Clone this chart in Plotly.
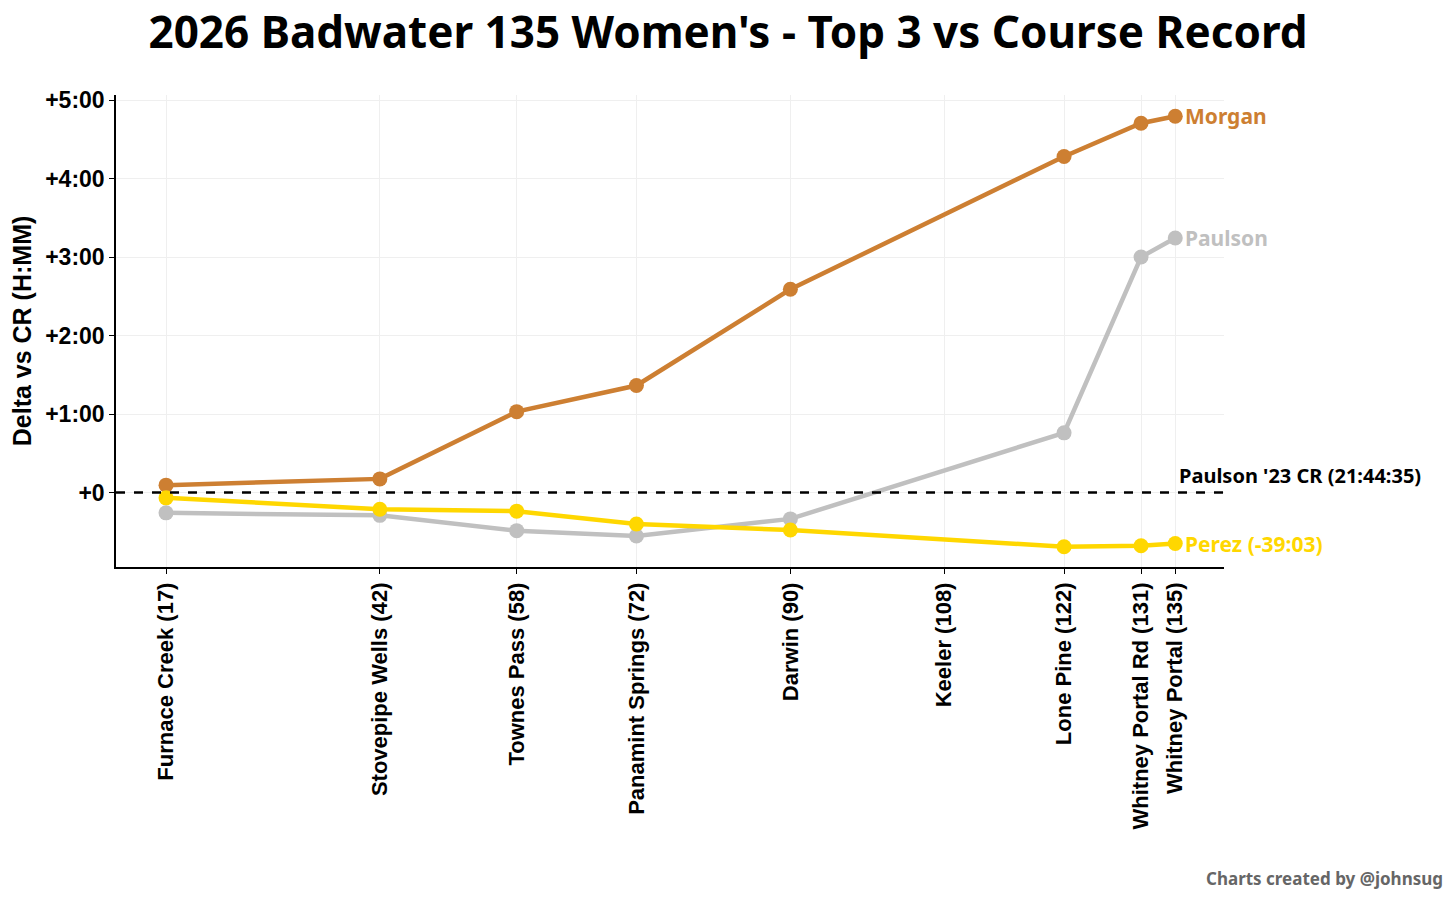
import plotly.graph_objects as go

# checkpoints (mile marker) and labels
miles = [17, 42, 58, 72, 90, 108, 122, 131, 135]
checkpoints = ["Furnace Creek (17)", "Stovepipe Wells (42)", "Townes Pass (58)",
               "Panamint Springs (72)", "Darwin (90)", "Keeler (108)",
               "Lone Pine (122)", "Whitney Portal Rd (131)", "Whitney Portal (135)"]

# delta vs course record, minutes (no split at Keeler)
morgan = [5.6, 10.4, 61.8, 81.8, 155.4, None, 257.0, 282.4, 287.7]
paulson = [-15.6, -17.5, -29.2, -33.3, -20.2, None, 45.6, 180.1, 194.6]
perez = [-4.1, -12.8, -14.3, -24.1, -28.7, None, -41.5, -40.8, -39.05]

ytick_vals = [0, 60, 120, 180, 240, 300]
ytick_text = ["+0", "+1:00", "+2:00", "+3:00", "+4:00", "+5:00"]

runners = [
    ("Morgan", morgan, "#CD7F32", "Morgan"),
    ("Paulson", paulson, "#C0C0C0", "Paulson"),
    ("Perez", perez, "#FFD700", "Perez (-39:03)"),
]

plex = "Noto Sans, sans-serif"
arial = "Liberation Sans, Arial, sans-serif"

fig = go.Figure()

# course record line
fig.add_hline(y=0, line=dict(color="black", width=2.5, dash="dash"))

for name, vals, color, label in runners:
    fig.add_trace(go.Scatter(
        x=miles, y=vals, mode="lines+markers", name=name,
        connectgaps=True,
        line=dict(color=color, width=4.5),
        marker=dict(color=color, size=15),
    ))
    fig.add_annotation(
        x=miles[-1], y=vals[-1], text=f"<b>{label}</b>",
        xanchor="left", yanchor="middle", xshift=8, showarrow=False,
        font=dict(family=plex, size=21, color=color),
    )

fig.add_annotation(
    x=miles[-1], y=0, text="<b>Paulson '23 CR (21:44:35)</b>",
    xanchor="left", yanchor="bottom", xshift=2, yshift=1, showarrow=False,
    font=dict(family=plex, size=20, color="black"),
)

fig.add_annotation(
    xref="paper", yref="paper", x=1.1995, y=-0.659,
    text="<b>Charts created by @johnsug</b>", showarrow=False,
    xanchor="right", yanchor="middle",
    font=dict(family=plex, size=17, color="#666666"),
)

fig.update_layout(
    width=1440, height=884,
    title=dict(text="<b>2026 Badwater 135 Women's - Top 3 vs Course Record</b>",
               x=0.5, xanchor="center", y=0.972, yanchor="middle",
               font=dict(family=plex, size=44, color="black")),
    showlegend=False,
    plot_bgcolor="white", paper_bgcolor="white",
    margin=dict(l=108, r=224, t=87, b=325),
    xaxis=dict(
        range=[11.15, 140.7], tickvals=miles, ticktext=checkpoints,
        tickangle=-90, showgrid=True, gridcolor="#EFEFEF", zeroline=False,
        showline=True, linecolor="black", linewidth=1.5,
        ticks="outside", ticklen=5, tickcolor="black",
        tickfont=dict(family=arial, size=22, color="black", weight="bold"),
    ),
    yaxis=dict(
        range=[-57, 304], tickvals=ytick_vals, ticktext=ytick_text,
        showgrid=True, gridcolor="#EFEFEF", zeroline=False,
        showline=True, linecolor="black", linewidth=1.5,
        ticks="outside", ticklen=5, tickcolor="black",
        tickfont=dict(family=arial, size=23, color="black", weight="bold"),
        title=dict(text="<b>Delta vs CR (H:MM)</b>", standoff=6,
                   font=dict(family=arial, size=25, color="black")),
    ),
)

fig.write_html("out.html")
